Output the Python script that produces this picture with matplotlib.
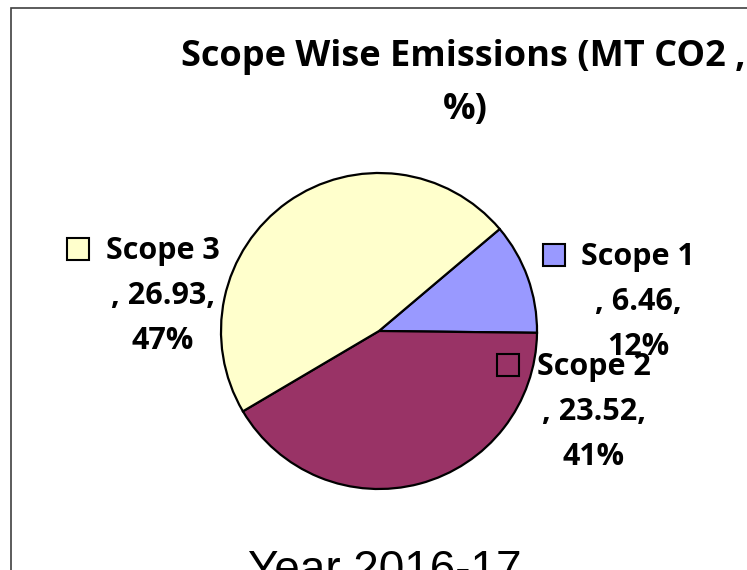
import matplotlib.pyplot as plt
from matplotlib.patches import Rectangle

# data
scopes = ['Scope 1', 'Scope 2', 'Scope 3']
emissions = [6.46, 23.52, 26.93]
pct_labels = ['12%', '41%', '47%']
colors = ['#9999FF', '#993366', '#FFFFCC']

W, H = 747, 570
FONT = ['Open Sans', 'DejaVu Sans']

fig = plt.figure(figsize=(W / 100, H / 100), dpi=100)
fig.patch.set_facecolor('white')

# chart frame (runs off the right and bottom edge)
fig.patches.append(Rectangle((11 / W, -0.1), 1.2, (H - 8) / H + 0.1,
                             transform=fig.transFigure, fill=False,
                             edgecolor='#404040', linewidth=1.2))

ax = fig.add_axes([0, 0, 1, 1])

cx, cy, R = 379, H - 331, 158
ax.pie(emissions, colors=colors, startangle=40.2, counterclock=False,
       center=(cx, cy), radius=R, frame=True,
       wedgeprops=dict(edgecolor='black', linewidth=1.6))
ax.set_xlim(0, W)
ax.set_ylim(0, H)
ax.set_aspect('equal')
ax.axis('off')

# title
ax.text(463, H - 57, 'Scope Wise Emissions (MT CO2 ,', ha='center', va='center',
        fontsize=26, fontweight='bold', family=FONT)
ax.text(465, H - 110, '%)', ha='center', va='center',
        fontsize=26, fontweight='bold', family=FONT)

# data labels: (square x, name x, y of name line, value/pct x)
label_pos = {
    'Scope 1': (554, 638, 257, 638),
    'Scope 2': (508, 594, 367, 594),
    'Scope 3': (78, 163, 251, 163),
}
LS = 45
for name, val, pct, col in zip(scopes, emissions, pct_labels, colors):
    sx, nx, y0, vx = label_pos[name]
    ax.plot([sx], [H - y0 + 2], marker='s', markersize=15.5, markerfacecolor=col,
            markeredgecolor='black', markeredgewidth=1.5, linestyle='none')
    ax.text(nx, H - y0, name, ha='center', va='center',
            fontsize=22, fontweight='bold', family=FONT)
    ax.text(vx, H - y0 - LS, f', {val:.2f},', ha='center', va='center',
            fontsize=22, fontweight='bold', family=FONT)
    ax.text(vx, H - y0 - 2 * LS, pct, ha='center', va='center',
            fontsize=22, fontweight='bold', family=FONT)

# category label at the bottom, cut by the edge
ax.text(385, H - 583, 'Year 2016-17', ha='center', va='baseline',
        fontsize=33, family=['Liberation Sans', 'DejaVu Sans'])

fig.savefig('out.png', dpi=100)
